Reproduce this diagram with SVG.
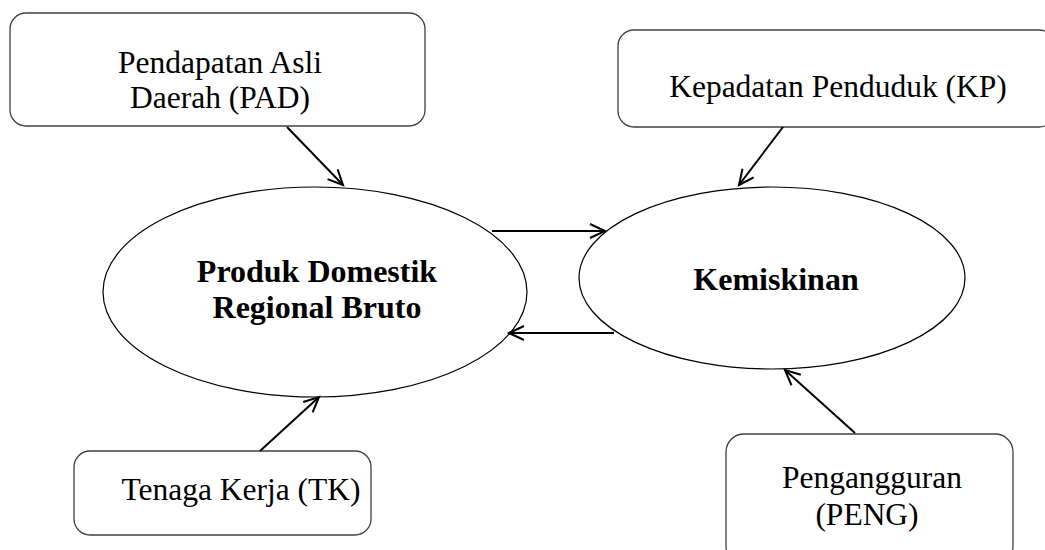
<svg xmlns="http://www.w3.org/2000/svg" width="1045" height="550" viewBox="0 0 1045 550">
<style>
.box{fill:#fff;stroke:#404040;stroke-width:1.3}
.ell{fill:#fff;stroke:#000;stroke-width:1.2}
.t{font-family:"Liberation Serif","Times New Roman",serif;font-size:31.5px;fill:#000;text-anchor:middle}
.b{font-family:"Liberation Serif","Times New Roman",serif;font-size:32px;font-weight:bold;fill:#000;text-anchor:middle}
.c{stroke:#000;stroke-width:2;fill:none;marker-end:url(#ah)}
</style>
<defs>
<marker id="ah" markerWidth="20" markerHeight="20" viewBox="0 0 20 20" refX="16" refY="10" orient="auto" markerUnits="userSpaceOnUse">
<path d="M1,3 L16,10 L1,17" fill="none" stroke="#000" stroke-width="2"/>
</marker>
</defs>
<rect width="1045" height="550" fill="#fff"/>
<g id="node-pad">
<rect class="box" x="10" y="13" width="415" height="113" rx="16"/>
<text class="t" x="220" y="73">Pendapatan Asli</text>
<text class="t" x="220" y="108">Daerah (PAD)</text>
</g>
<g id="node-kp">
<rect class="box" x="618" y="30" width="437" height="97" rx="16"/>
<text class="t" x="838" y="97">Kepadatan Penduduk (KP)</text>
</g>
<g id="node-tk">
<rect class="box" x="74" y="451" width="297" height="84" rx="16"/>
<text class="t" x="241" y="500">Tenaga Kerja (TK)</text>
</g>
<g id="node-peng">
<rect class="box" x="726" y="434" width="287" height="130" rx="18"/>
<text class="t" x="872" y="488">Pengangguran</text>
<text class="t" x="867" y="525">(PENG)</text>
</g>
<g id="node-pdrb">
<ellipse class="ell" cx="315" cy="292" rx="212" ry="105"/>
<text class="b" x="317" y="282">Produk Domestik</text>
<text class="b" x="317" y="318">Regional Bruto</text>
</g>
<g id="node-kem">
<ellipse class="ell" cx="772" cy="278" rx="193" ry="91"/>
<text class="b" x="776" y="290">Kemiskinan</text>
</g>
<g id="connectors">
<line class="c" x1="287" y1="127" x2="343" y2="185"/>
<line class="c" x1="492" y1="231" x2="605" y2="231"/>
<line class="c" x1="614" y1="333" x2="509" y2="333"/>
<line class="c" x1="783" y1="127" x2="739" y2="185"/>
<line class="c" x1="260" y1="451" x2="319" y2="397"/>
<line class="c" x1="855" y1="433" x2="785" y2="370"/>
</g>
</svg>
